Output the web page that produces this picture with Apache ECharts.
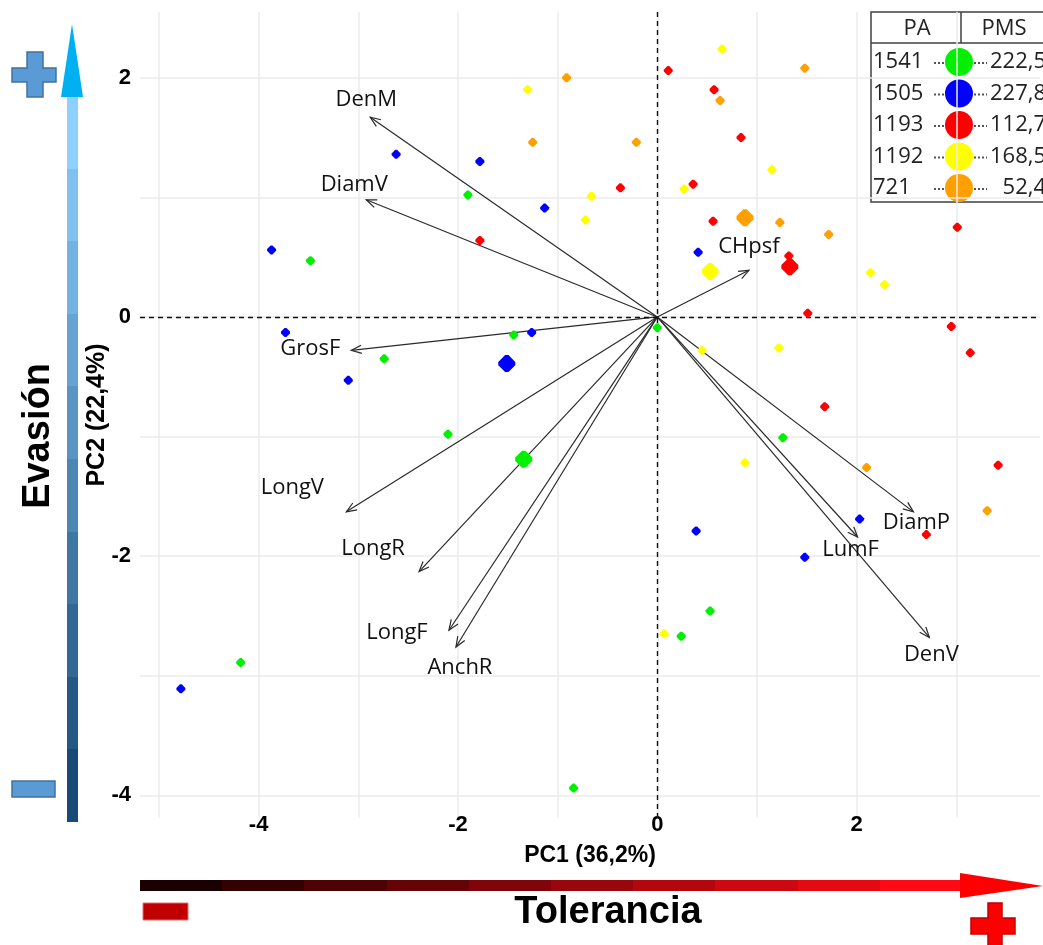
<!DOCTYPE html>
<html><head><meta charset="utf-8">
<script src="https://cdn.jsdelivr.net/npm/echarts@6/dist/echarts.min.js"></script>
<style>html,body{margin:0;padding:0;background:#fff}#c{width:1043px;height:945px}</style>
</head><body><div id="c"></div>
<script>
// ---------------- data ----------------
const groupPA  = ['1541', '1505', '1193', '1192', '721'];
const groupPMS = ['222,5', '227,8', '112,7', '168,5', '52,4'];

const pts1541 = [[-1.90,1.02],[-3.48,0.47],[-1.44,-0.15],[0.00,-0.09],[-2.74,-0.35],[-2.10,-0.98],[-4.18,-2.89],[-0.84,-3.94],[1.26,-1.01],[0.53,-2.46],[0.24,-2.67]];
const mean1541 = [-1.34,-1.19];
const pts1505 = [[-2.62,1.36],[-1.78,1.30],[-1.13,0.91],[-3.87,0.56],[-3.73,-0.13],[-1.26,-0.13],[-3.10,-0.53],[0.41,0.54],[-4.78,-3.11],[2.03,-1.69],[0.39,-1.79],[1.48,-2.01]];
const mean1505 = [-1.51,-0.39];
const pts1193 = [[0.11,2.06],[0.57,1.90],[0.84,1.50],[0.36,1.11],[-0.37,1.08],[-1.78,0.64],[0.56,0.80],[3.01,0.75],[1.32,0.51],[1.51,0.03],[2.95,-0.08],[3.14,-0.30],[1.68,-0.75],[3.42,-1.24],[2.70,-1.82]];
const mean1193 = [1.33,0.42];
const pts1192 = [[0.65,2.24],[-1.30,1.90],[1.15,1.23],[-0.66,1.01],[-0.72,0.81],[0.27,1.07],[2.14,0.37],[2.28,0.27],[0.45,-0.28],[1.22,-0.26],[0.88,-1.22],[0.07,-2.65]];
const mean1192 = [0.53,0.38];
const pts721 = [[-0.91,2.00],[1.48,2.08],[0.63,1.81],[-1.25,1.46],[-0.21,1.46],[1.23,0.79],[1.72,0.69],[2.10,-1.26],[3.31,-1.62]];
const mean721 = [0.88,0.83];

const loadingNames = ['DenM','DiamV','GrosF','LongV','LongR','LongF','AnchR','CHpsf','DiamP','LumF','DenV'];
const loadingPC1   = [-2.88,-2.92,-3.07,-3.12,-2.39,-2.09,-2.02,0.92,2.57,2.01,2.73];
const loadingPC2   = [1.67,0.98,-0.28,-1.63,-2.13,-2.62,-2.76,0.39,-1.63,-1.84,-2.68];

const xTickLabels = ['-4','-2','0','2'];
const yTickLabels = ['2','0','-2','-4'];

// ---------------- styling ----------------
const groupColors = ['#00f000','#0000ff','#ff0000','#ffff00','#ffa000'];
const labelOffsets = {DenM:[-4,-18], DiamV:[-12,-15], GrosF:[-41,-2], LongV:[-54,-24], LongR:[-46,-23],
  LongF:[-52,2], AnchR:[4,21], CHpsf:[0,-24], DiamP:[3,11], LumF:[-7,13], DenV:[2,17]};
const boldFont = 'Liberation Sans';
const markerPath = 'path://M4,0 L6,0 L10,4 L10,6 L6,10 L4,10 L0,6 L0,4 Z';

function hex2rgb(h){return [1,3,5].map(i=>parseInt(h.substr(i,2),16));}
function stepped(c0,c1,n){
  const a=hex2rgb(c0), b=hex2rgb(c1), stops=[];
  for(let k=0;k<n;k++){
    const t=k/(n-1);
    const col='rgb('+a.map((v,i)=>Math.round(v+(b[i]-v)*t)).join(',')+')';
    stops.push({offset:k/n,color:col},{offset:(k+1)/n,color:col});
  }
  return stops;
}
function tickFmt(list){
  return function(v){
    const r=Math.round(v);
    if(Math.abs(v-r)>1e-6) return '';
    const s=String(r===0?0:r);
    return list.includes(s)?s:'';
  };
}

const groups=[pts1541,pts1505,pts1193,pts1192,pts721];
const means=[mean1541,mean1505,mean1193,mean1192,mean721];

const scatterSeries = groups.map((g,i)=>({
  type:'scatter', name:groupPA[i], symbol:markerPath, symbolSize:9, z:5,
  itemStyle:{color:groupColors[i], opacity:1},
  data: g.map(p=>({value:p})).concat([{value:means[i], symbolSize:17}])
}));

const arrowSeries = {
  type:'custom', z:3, silent:true,
  data: loadingNames.map((n,i)=>[loadingPC1[i], loadingPC2[i]]),
  renderItem:function(params, api){
    const o=api.coord([0,0]);
    const t=api.coord([api.value(0), api.value(1)]);
    const ang=Math.atan2(t[1]-o[1], t[0]-o[0]);
    const L=11, A=0.38;
    const h1=[t[0]-L*Math.cos(ang-A), t[1]-L*Math.sin(ang-A)];
    const h2=[t[0]-L*Math.cos(ang+A), t[1]-L*Math.sin(ang+A)];
    const name=loadingNames[params.dataIndex];
    const off=labelOffsets[name];
    return {type:'group', children:[
      {type:'line', shape:{x1:o[0],y1:o[1],x2:t[0],y2:t[1]}, style:{stroke:'#2a2a2a',lineWidth:1.2}},
      {type:'polyline', shape:{points:[h1,t,h2]}, style:{stroke:'#2a2a2a',lineWidth:1.2,fill:null}},
      {type:'text', x:t[0]+off[0], y:t[1]+off[1], z2:10,
        style:{text:name, align:'center', verticalAlign:'middle', fontSize:22, fontFamily:'Open Sans', fill:'#111'}}
    ]};
  }
};

const zeroLines = {
  type:'line', data:[], z:2,
  markLine:{silent:true, symbol:'none', animation:false, label:{show:false},
    lineStyle:{color:'#111', type:[5,4], width:1.4},
    data:[{xAxis:0},{yAxis:0}]}
};

// legend table graphics
const tbl=[];
const tx0=871, ty0=12, tyHead=43, tyBot=202;
tbl.push({type:'rect', shape:{x:tx0,y:ty0,width:200,height:tyBot-ty0}, style:{fill:'none',stroke:'#404040',lineWidth:1.5}});
tbl.push({type:'line', shape:{x1:tx0,y1:tyHead,x2:1043,y2:tyHead}, style:{stroke:'#404040',lineWidth:1.5}});
tbl.push({type:'line', shape:{x1:961,y1:ty0,x2:961,y2:tyHead}, style:{stroke:'#404040',lineWidth:1.5}});
tbl.push({type:'text', x:917, y:29, style:{text:'PA', align:'center', verticalAlign:'middle', fontSize:22, fontFamily:'Open Sans', fill:'#222'}});
tbl.push({type:'text', x:1004, y:29, style:{text:'PMS', align:'center', verticalAlign:'middle', fontSize:22, fontFamily:'Open Sans', fill:'#222'}});
groupPA.forEach((pa,i)=>{
  const y=62+i*31.5;
  tbl.push({type:'text', x:873, y:y, style:{text:pa, align:'left', verticalAlign:'middle', fontSize:22, fontFamily:'Open Sans', fill:'#222'}});
  tbl.push({type:'line', shape:{x1:934,y1:y+1,x2:945,y2:y+1}, style:{stroke:'#555',lineWidth:2,lineDash:[2,2]}});
  tbl.push({type:'line', shape:{x1:974,y1:y+1,x2:987,y2:y+1}, style:{stroke:'#555',lineWidth:2,lineDash:[2,2]}});
  tbl.push({type:'circle', shape:{cx:959,cy:y,r:14}, style:{fill:groupColors[i]}});
  tbl.push({type:'text', x:1046, y:y, style:{text:groupPMS[i], align:'right', verticalAlign:'middle', fontSize:22, fontFamily:'Open Sans', fill:'#222'}});
});

// decorations
const deco=[
  // blue vertical arrow
  {type:'rect', shape:{x:67,y:96,width:11,height:726}, style:{fill:{type:'linear',x:0,y:0,x2:0,y2:1,colorStops:stepped('#8ed0ff','#174a77',10)}}},
  {type:'polygon', shape:{points:[[72,24],[83,97],[61,97]]}, style:{fill:'#00b0f0'}},
  {type:'polygon', shape:{points:[[27,52],[43,52],[43,68],[56,68],[56,82],[43,82],[43,97],[27,97],[27,82],[12,82],[12,68],[27,68]]}, style:{fill:'#5b9bd5',stroke:'#41719c',lineWidth:1.5}},
  {type:'rect', shape:{x:12,y:781,width:43,height:16}, style:{fill:'#5b9bd5',stroke:'#41719c',lineWidth:1.5}},
  {type:'text', x:39, y:436, rotation:Math.PI/2, style:{text:'Evasión', align:'center', verticalAlign:'middle', fontSize:38, fontWeight:'bold', fontFamily:boldFont, fill:'#000'}},
  // red horizontal arrow
  {type:'rect', shape:{x:140,y:880,width:822,height:11}, style:{fill:{type:'linear',x:0,y:0,x2:1,y2:0,colorStops:stepped('#1a0000','#ff0a14',10)}}},
  {type:'polygon', shape:{points:[[960,873],[1043,886],[960,898]]}, style:{fill:'#ff0000'}},
  {type:'rect', shape:{x:143,y:903,width:45,height:17}, style:{fill:'#c00000',stroke:'#e07070',lineWidth:1}},
  {type:'polygon', shape:{points:[[988,903],[1002,903],[1002,918],[1015,918],[1015,934],[1002,934],[1002,950],[988,950],[988,934],[971,934],[971,918],[988,918]]}, style:{fill:'#ff0000',stroke:'#c00000',lineWidth:1.5}},
  {type:'text', x:608, y:913, style:{text:'Tolerancia', align:'center', verticalAlign:'middle', fontSize:38, fontWeight:'bold', fontFamily:boldFont, fill:'#000'}}
];

const chart = echarts.init(document.getElementById('c'), null, {renderer:'canvas'});
chart.setOption({
  animation:false,
  backgroundColor:'#fff',
  grid:{left:140, right:0, top:12, bottom:127, containLabel:false},
  xAxis:{
    type:'value', min:-5.19, max:3.84, splitNumber:9,
    name:'PC1 (36,2%)', nameLocation:'middle', nameGap:26, nameMoveOverlap:false,
    nameTextStyle:{fontFamily:boldFont, fontWeight:'bold', fontSize:23, color:'#000'},
    axisLine:{show:false}, axisTick:{show:false},
    axisLabel:{formatter:tickFmt(xTickLabels), margin:-4, fontFamily:boldFont, fontWeight:'bold', fontSize:22, color:'#000', showMinLabel:true, showMaxLabel:true},
    splitLine:{show:true, showMinLine:false, showMaxLine:false, lineStyle:{color:'#ebebeb', width:1.5}}
  },
  yAxis:{
    type:'value', min:-4.19, max:2.55, splitNumber:7,
    name:'PC2 (22,4%)', nameLocation:'middle', nameGap:30, nameMoveOverlap:false,
    nameTextStyle:{fontFamily:boldFont, fontWeight:'bold', fontSize:25, color:'#000'},
    axisLine:{show:false}, axisTick:{show:false},
    axisLabel:{formatter:tickFmt(yTickLabels), margin:9, fontFamily:boldFont, fontWeight:'bold', fontSize:22, color:'#000'},
    splitLine:{show:true, showMinLine:false, showMaxLine:false, lineStyle:{color:'#ebebeb', width:1.5}}
  },
  series:[zeroLines, arrowSeries].concat(scatterSeries),
  graphic:{elements: deco.concat(tbl)}
});
</script>
</body></html>
